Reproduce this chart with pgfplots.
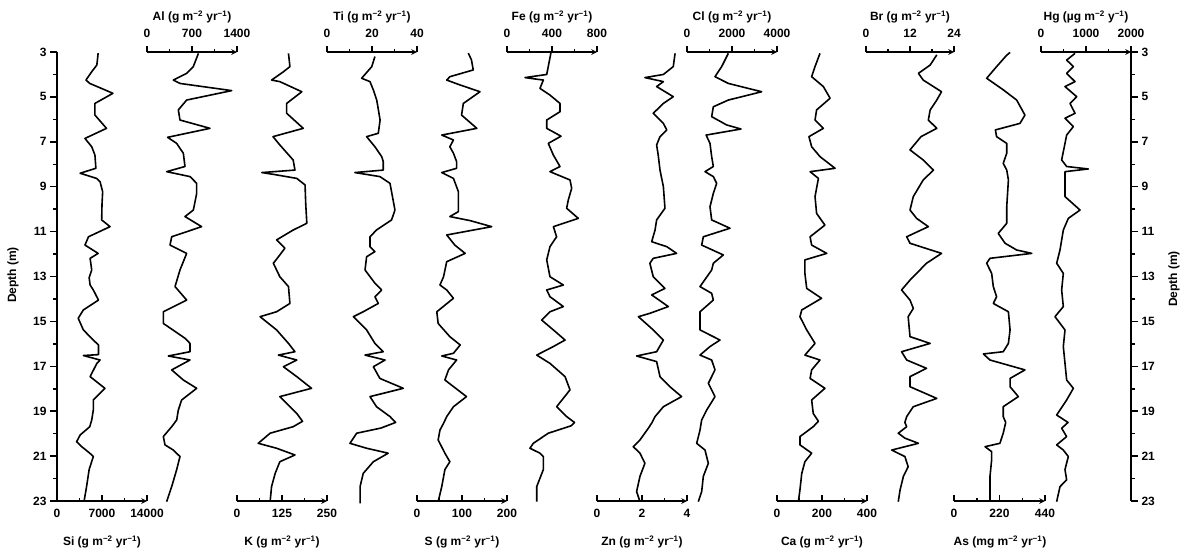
\documentclass[border=0pt]{standalone}
\usepackage{pgfplots}
\pgfplotsset{compat=1.18}
\usepackage{fontspec}
\setmainfont{Liberation Sans}
\newcommand\tlf{\fontsize{12}{14}\selectfont\bfseries}
\newcommand\un[1]{(#1 m\textsuperscript{−2} yr\textsuperscript{−1})}
\pgfplotsset{
  elem/.style={scale only axis, width=90pt, height=449pt, ymin=3, ymax=23, y dir=reverse,
    axis y line=none, clip=false, anchor=south west, scaled x ticks=false,
    axis line style={-, line width=1.5pt},
    every tick/.style={line width=1.5pt, black},
    major tick length=6pt, minor tick length=3pt, minor x tick num=1,
    tick label style={font=\tlf}},
  bot/.style={elem, axis x line=bottom, tick align=inside, xticklabel style={yshift=-5pt}},
  top/.style={elem, axis x line=top, tick align=outside, xticklabel style={yshift=5pt}},
  crv/.style={black, line width=1.6pt, line join=round},
}
\begin{document}
\begin{tikzpicture}
\useasboundingbox (0pt,-54pt) rectangle (1187pt,501pt);
% depth axes
\begin{axis}[scale only axis, width=1074pt, height=449pt, at={(57pt,0pt)}, anchor=south west,
  ymin=3, ymax=23, y dir=reverse, xmin=0, xmax=1, axis y line=left, axis x line=none,
  axis line style={-, line width=1.5pt}, every tick/.style={line width=1.5pt, black},
  ytick={3,5,...,23}, minor y tick num=1, tick align=outside, major tick length=7pt, minor tick length=4pt,
  tick label style={font=\tlf}, /pgf/number format/assume math mode=true]
\addplot[draw=none] coordinates {(0,3)};
\end{axis}
\begin{axis}[scale only axis, width=1074pt, height=449pt, at={(57pt,0pt)}, anchor=south west,
  ymin=3, ymax=23, y dir=reverse, xmin=0, xmax=1, axis y line=right, axis x line=none,
  axis line style={-, line width=1.5pt}, every tick/.style={line width=1.5pt, black},
  ytick={3,5,...,23}, minor y tick num=1, tick align=outside, major tick length=7pt, minor tick length=4pt,
  tick label style={font=\tlf}, /pgf/number format/assume math mode=true]
\addplot[draw=none] coordinates {(0,3)};
\end{axis}
% Si
\begin{axis}[bot, at={(57pt,0pt)}, xmin=0, xmax=14000, xtick={0,7000,14000}, xticklabels={0,7000,14000}]
\addplot[crv] table[x=v,y=d] {
d v
3.05 6400
3.58 6200
3.88 5400
4.25 4500
4.40 5100
4.84 8700
5.29 5900
5.81 5900
6.40 7700
6.85 4350
7.22 5400
7.59 5900
8.18 6050
8.40 3600
8.63 6150
8.78 6700
9.22 7100
9.80 7000
10.48 6950
10.78 8250
11.23 4900
11.60 4350
11.97 6400
12.19 5150
12.71 5400
13.05 5000
13.38 5150
13.60 5650
14.05 6450
14.49 4100
14.86 3300
15.38 4100
15.83 5650
16.05 6450
16.48 6450
16.52 4100
16.72 6700
16.87 6200
17.46 5150
17.98 7450
18.50 5650
18.95 5650
19.39 5400
19.69 5100
20.06 3600
20.36 3050
20.58 3850
20.87 5100
21.02 5650
21.60 5000
22.36 4600
23.03 4200
};
\end{axis}
% Al
\begin{axis}[top, at={(147pt,0pt)}, xmin=0, xmax=1400, xtick={0,700,1400}, xticklabels={0,700,1400}]
\addplot[crv] table[x=v,y=d] {
d v
3.06 800
3.65 720
3.95 617
4.25 410
4.40 513
4.72 1318
5.14 617
5.58 487
6.03 513
6.40 980
6.80 320
7.07 461
7.51 565
8.10 591
8.33 306
8.55 669
8.85 773
9.30 773
10.04 721
10.33 591
10.78 850
11.23 384
11.60 358
11.97 617
12.71 513
13.45 436
14.05 617
14.57 254
15.09 254
15.75 591
15.98 669
16.35 669
16.54 332
16.72 669
17.16 384
17.61 565
17.98 773
18.50 539
18.95 487
19.39 462
19.69 384
20.13 254
20.50 280
20.73 409
21.02 513
21.60 462
22.36 384
23.03 306
};
\end{axis}
% K
\begin{axis}[bot, at={(237pt,0pt)}, xmin=0, xmax=250, xtick={0,125,250}, xticklabels={0,125,250}]
\addplot[crv] table[x=v,y=d] {
d v
3.06 143
3.65 147
3.88 129
4.25 96
4.32 119
4.77 180
5.29 138
5.73 138
6.40 184
6.77 100
7.14 119
7.81 156
8.26 161
8.37 69
8.45 101
8.63 166
8.92 189
9.80 191
10.63 194
10.93 156
11.37 110
11.74 133
12.04 119
12.41 101
13.01 119
13.45 143
14.20 147
14.57 110
14.79 64
15.38 110
15.98 143
16.35 161
16.50 115
16.72 166
17.02 129
17.46 166
17.98 207
18.35 119
18.65 138
19.10 166
19.45 182
19.69 156
19.98 92
20.43 59
20.65 110
20.95 161
21.25 119
21.77 106
22.36 96
23.03 92
};
\end{axis}
% Ti
\begin{axis}[top, at={(327pt,0pt)}, xmin=0, xmax=40, xtick={0,20,40}, xticklabels={0,20,40}]
\addplot[crv] table[x=v,y=d] {
d v
3.20 21.3
3.65 19.9
4.17 15.4
4.32 19.1
4.69 20.6
5.14 22.1
6.03 23.6
6.62 22.8
6.77 17.6
7.22 21.3
7.66 24.3
7.88 25
8.26 25
8.37 12.4
8.55 23.5
8.85 28
10.04 30.2
10.48 28.7
10.93 22
11.23 19.1
11.67 19.1
11.89 21.3
12.12 17.6
12.71 16.9
13.30 21.3
13.60 24.3
13.90 21.3
14.20 22.8
14.57 16.1
14.79 11.7
15.38 17.6
15.98 21.3
16.35 25
16.50 16.9
16.72 25.8
17.02 20.6
17.54 23.5
17.98 33.9
18.35 19.1
18.80 22
19.24 28
19.50 30.5
19.75 24
19.98 13.2
20.43 10.2
20.65 17.6
20.87 27.2
21.25 20.6
21.77 16.1
22.36 14.7
23.10 14.7
};
\end{axis}
% S
\begin{axis}[bot, at={(417pt,0pt)}, xmin=0, xmax=200, xtick={0,100,200}, xticklabels={0,100,200}]
\addplot[crv] table[x=v,y=d] {
d v
3.05 114
3.35 121
3.80 125
4.10 73
4.25 66
4.47 96
4.77 140
5.29 103
5.81 99
6.40 133
6.70 55
6.92 81
7.22 73
7.51 81
7.88 88
8.18 88
8.37 55
8.63 81
9.22 92
10.11 92
10.33 73
10.51 118
10.78 166
11.15 66
11.60 84
11.97 107
12.34 66
13.01 59
13.38 51
13.60 66
13.97 81
14.57 44
15.09 47
15.68 73
16.05 96
16.42 81
16.54 55
16.72 88
17.16 70
17.61 62
18.35 110
18.80 81
19.24 66
19.50 60
19.84 51
20.28 47
20.87 62
21.25 73
21.60 62
22.36 55
23.03 47
};
\end{axis}
% Fe
\begin{axis}[top, at={(507pt,0pt)}, xmin=0, xmax=800, xtick={0,400,800}, xticklabels={0,400,800}]
\addplot[crv] table[x=v,y=d] {
d v
3.05 390
4.00 353
4.14 160
4.25 323
4.62 293
4.92 382
5.29 471
5.66 471
6.03 353
6.40 353
6.75 480
7.07 367
7.59 412
8.10 471
8.33 382
8.70 560
9.07 575
9.59 545
9.96 530
10.41 634
10.78 412
11.23 441
11.67 382
12.26 353
13.01 382
13.38 501
13.60 353
13.90 382
14.34 501
14.57 382
14.94 308
15.38 412
15.83 516
16.12 412
16.50 264
16.87 382
17.46 516
18.05 560
18.80 441
19.24 530
19.50 600
19.65 570
19.98 367
20.43 234
20.65 204
20.87 293
21.02 323
21.60 323
22.36 264
23.03 264
};
\end{axis}
% Zn
\begin{axis}[bot, at={(597pt,0pt)}, xmin=0, xmax=4, xtick={0,2,4}, xticklabels={0,2,4}]
\addplot[crv] table[x=v,y=d] {
d v
3.06 3.47
3.65 3.39
4.00 2.95
4.14 2.13
4.32 2.95
4.54 2.65
4.99 3.39
5.29 2.95
5.73 2.50
6.18 2.95
6.47 3.10
6.77 2.80
7.14 2.65
7.59 2.72
8.26 2.80
9.00 2.95
9.96 3.02
10.48 2.65
10.93 2.58
11.45 2.43
11.67 3.10
11.97 3.54
12.19 2.50
12.41 2.35
13.01 2.50
13.53 3.02
13.82 2.43
14.34 3.17
14.64 2.35
14.79 1.84
15.38 2.50
15.83 2.95
16.35 2.65
16.54 1.76
16.79 2.65
17.46 2.80
17.91 3.24
18.35 3.76
18.80 2.95
19.24 2.58
19.50 2.45
19.76 2.28
20.28 1.91
20.58 1.61
20.87 1.91
21.32 2.13
21.90 1.91
22.58 1.76
23.03 1.91
};
\end{axis}
% Cl
\begin{axis}[top, at={(687pt,0pt)}, xmin=0, xmax=4000, xtick={0,2000,4000}, xticklabels={0,2000,4000}]
\addplot[crv] table[x=v,y=d] {
d v
3.06 1837
3.65 1541
4.10 1244
4.40 1837
4.77 3319
5.14 1837
5.44 1170
5.88 1096
6.25 1763
6.43 2400
6.70 850
7.07 1022
7.66 1096
8.10 1170
8.33 800
8.55 1170
8.85 1318
9.30 1170
9.89 1022
10.48 1096
10.85 1911
11.23 726
11.60 652
12.04 1614
12.41 1170
12.71 1096
13.45 578
13.75 1096
14.05 1170
14.57 578
15.38 578
15.83 1466
16.12 1022
16.50 578
16.72 1096
17.16 1244
17.76 948
18.35 1244
18.95 874
19.39 652
19.84 578
20.43 430
20.73 800
21.32 948
21.90 726
22.58 652
23.03 504
};
\end{axis}
% Ca
\begin{axis}[bot, at={(777pt,0pt)}, xmin=0, xmax=400, xtick={0,200,400}, xticklabels={0,200,400}]
\addplot[crv] table[x=v,y=d] {
d v
3.06 191
3.65 169
4.10 154
4.54 206
5.06 236
5.58 176
6.03 169
6.40 206
6.77 142
7.22 154
7.66 191
8.18 258
8.33 147
8.63 184
9.44 169
10.19 176
10.71 213
11.23 147
11.60 154
11.97 221
12.26 124
12.86 124
13.53 132
13.97 198
14.49 110
14.79 102
15.38 132
15.98 169
16.50 124
16.72 191
17.16 154
17.54 147
17.98 213
18.50 154
19.10 161
19.45 184
19.69 161
20.13 102
20.50 102
20.87 154
21.25 124
21.77 110
22.50 102
23.03 95
};
\end{axis}
% Br
\begin{axis}[top, at={(866pt,0pt)}, width=88pt, xmin=0, xmax=24, xtick={0,12,24}, xticklabels={0,12,24}]
\addplot[crv] table[x=v,y=d] {
d v
3.13 19.3
3.58 17.5
3.95 14.3
4.25 15.6
4.77 20.6
5.14 19.3
5.58 17.5
6.03 17.0
6.40 19.3
6.77 15.0
7.36 12.0
7.81 15.6
8.26 18.4
8.70 15.6
9.44 12.9
10.04 12.0
10.41 13.8
10.78 17.0
11.23 11.1
11.52 12.0
11.97 20.6
12.41 16.5
13.16 12.0
13.60 9.7
14.05 12.0
14.42 12.9
14.79 11.5
15.68 12.0
15.98 17.5
16.35 9.7
16.72 11.1
17.09 16.5
17.46 12.0
17.91 12.0
18.43 19.3
18.80 12.9
19.24 11.1
19.50 10.6
19.69 11.1
19.98 8.8
20.20 10.6
20.43 14.3
20.73 7.0
21.02 10.6
21.47 11.5
21.90 10.2
22.50 9.3
23.03 8.8
};
\end{axis}
% As
\begin{axis}[bot, at={(954pt,0pt)}, width=91pt, xmin=0, xmax=440, xtick={0,220,440}, xticklabels={0,220,440}]
\addplot[crv] table[x=v,y=d] {
d v
3.02 271
3.14 255
3.65 206
4.17 158
4.69 239
5.14 303
5.81 343
6.18 319
6.47 200
6.77 206
7.07 255
7.51 255
7.96 238
8.26 255
8.70 263
9.89 255
10.63 255
11.08 214
11.52 247
11.82 303
11.97 376
12.19 174
12.41 158
12.86 182
13.45 190
13.90 206
14.20 190
14.57 263
15.38 271
15.98 263
16.35 238
16.45 142
16.72 174
17.16 343
17.54 271
17.91 271
18.35 311
18.80 238
19.24 238
19.50 250
19.98 238
20.43 222
20.58 150
20.80 182
21.17 182
21.90 174
22.50 174
23.03 174
};
\end{axis}
% Hg
\begin{axis}[top, at={(1041pt,0pt)}, xmin=0, xmax=2000, xtick={0,1000,2000}, xticklabels={0,1000,2000}]
\addplot[crv] table[x=v,y=d] {
d v
3.06 756
3.36 570
3.65 719
3.95 570
4.32 756
4.54 533
4.99 793
5.29 644
5.73 756
5.95 533
6.32 719
6.70 570
7.07 533
7.81 459
8.10 570
8.21 1052
8.33 533
9.44 533
10.04 867
10.41 607
10.93 496
11.82 422
12.41 348
12.86 496
13.60 459
14.34 496
14.79 311
15.38 533
16.12 496
16.87 533
17.61 570
17.98 719
18.50 570
19.17 348
19.50 600
19.76 459
20.13 570
20.50 348
20.73 496
21.02 607
21.60 533
22.06 570
22.36 422
23.03 348
};
\end{axis}
% titles
\begin{scope}[every node/.style={font=\tlf}]
\node at (102pt,-41pt) {Si \un{g}};
\node at (282pt,-41pt) {K \un{g}};
\node at (462pt,-41pt) {S \un{g}};
\node at (642pt,-41pt) {Zn \un{g}};
\node at (822pt,-41pt) {Ca \un{g}};
\node at (1000pt,-41pt) {As \un{mg}};
\node at (192pt,484pt) {Al \un{g}};
\node at (372pt,484pt) {Ti \un{g}};
\node at (552pt,484pt) {Fe \un{g}};
\node at (732pt,484pt) {Cl \un{g}};
\node at (910pt,484pt) {Br \un{g}};
\node at (1086pt,484pt) {Hg (µg m\textsuperscript{−2} y\textsuperscript{−1})};
\node[rotate=90] at (13pt,226pt) {Depth (m)};
\node[rotate=90] at (1174pt,222pt) {Depth (m)};
\end{scope}
\end{tikzpicture}
\end{document}
